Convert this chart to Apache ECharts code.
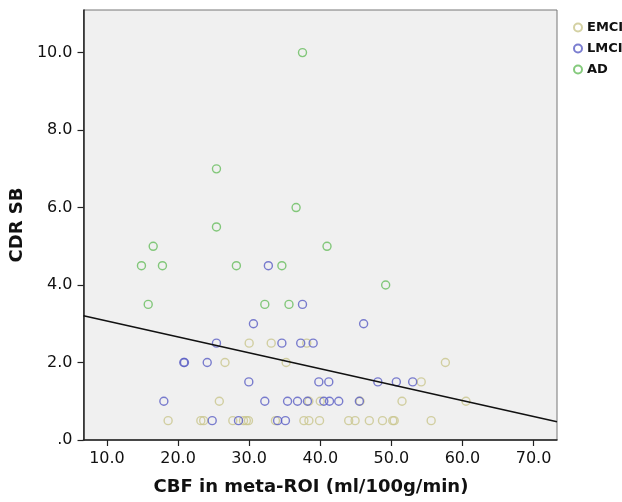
<!DOCTYPE html>
<html>
<head>
<meta charset="utf-8">
<script src="https://cdn.jsdelivr.net/npm/echarts@6/dist/echarts.min.js"></script>
<style>
html,body{margin:0;padding:0;background:#fff;}
#chart{width:622px;height:502px;}
</style>
</head>
<body>
<div id="chart"></div>
<script>
// ---- Data ----
const emciX = [18.6, 23.2, 23.6, 27.7, 29.2, 29.6, 29.9, 33.7, 37.7, 38.4, 39.9, 44.0, 44.9, 46.9, 48.75, 50.2, 50.4, 55.6,
               25.8, 38.4, 40.0, 45.6, 51.5, 60.5,
               54.2,
               26.6, 35.2, 57.6,
               30.0, 33.1, 38.1];
const emciY = [0.5, 0.5, 0.5, 0.5, 0.5, 0.5, 0.5, 0.5, 0.5, 0.5, 0.5, 0.5, 0.5, 0.5, 0.5, 0.5, 0.5, 0.5,
               1, 1, 1, 1, 1, 1,
               1.5,
               2, 2, 2,
               2.5, 2.5, 2.5];

const lmciX = [32.7, 37.5, 30.6, 46.1, 25.4, 34.6, 37.25, 39.0, 20.8, 20.9, 24.1,
               29.95, 39.8, 41.2, 48.1, 50.7, 53.0,
               18.0, 32.2, 35.4, 36.8, 38.2, 40.5, 41.3, 42.6, 45.5,
               24.8, 28.5, 34.0, 35.1];
const lmciY = [4.5, 3.5, 3, 3, 2.5, 2.5, 2.5, 2.5, 2, 2, 2,
               1.5, 1.5, 1.5, 1.5, 1.5, 1.5,
               1, 1, 1, 1, 1, 1, 1, 1, 1,
               0.5, 0.5, 0.5, 0.5];

const adX = [37.5, 25.4, 36.6, 25.4, 16.5, 40.95, 14.85, 17.8, 28.2, 34.6, 49.2, 15.8, 32.2, 35.6];
const adY = [10, 7, 6, 5.5, 5, 5, 4.5, 4.5, 4.5, 4.5, 4, 3.5, 3.5, 3.5];

const fitX = [6.7, 73.3];
const fitY = [3.21, 0.47];

const groupNames = ['EMCI', 'LMCI', 'AD'];
const xTicks = [10, 20, 30, 40, 50, 60, 70];
const yTicks = [0, 2, 4, 6, 8, 10];

// ---- Build chart ----
const colors = {EMCI: '#c9c58c', LMCI: '#5a5ec4', AD: '#66bd5c'};
const zip = (xs, ys) => xs.map((x, i) => [x, ys[i]]);
const FONT = '"DejaVu Sans", sans-serif';

function scatter(name, xs, ys) {
  return {
    name: name,
    type: 'scatter',
    data: zip(xs, ys),
    symbol: 'circle',
    symbolSize: 8,
    itemStyle: {color: 'rgba(0,0,0,0)', borderColor: colors[name], borderWidth: 1.4},
    emphasis: {disabled: true},
    z: 3
  };
}

const chart = echarts.init(document.getElementById('chart'), null, {renderer: 'canvas'});
chart.setOption({
  animation: false,
  backgroundColor: '#ffffff',
  textStyle: {fontFamily: FONT},
  title: {
    text: 'CBF in meta-ROI (ml/100g/min)',
    left: 'center',
    top: 478,
    padding: 0,
    textStyle: {fontFamily: FONT, fontSize: 18, fontWeight: 'bold', color: '#111'}
  },
  legend: {
    data: groupNames,
    orient: 'vertical',
    left: 573,
    top: 20,
    padding: 0,
    icon: 'circle',
    itemWidth: 8,
    itemHeight: 8,
    itemGap: 6,
    textStyle: {fontFamily: FONT, fontSize: 13, fontWeight: 'bold', color: '#111', lineHeight: 15}
  },
  grid: {
    left: 83, right: 65, top: 10, bottom: 62,
    show: true,
    backgroundColor: '#f0f0f0',
    borderColor: '#777',
    borderWidth: 1
  },
  xAxis: {
    type: 'value',
    min: 6.7,
    max: 73.3,
    splitLine: {show: false},
    axisLine: {show: true, onZero: false, lineStyle: {color: '#222', width: 1.5}},
    axisTick: {show: true, length: 6, customValues: xTicks, lineStyle: {color: '#222', width: 1.2}},
    axisLabel: {
      customValues: xTicks,
      margin: 11,
      fontFamily: FONT, fontSize: 16, color: '#111',
      formatter: v => v.toFixed(1)
    }
  },
  yAxis: {
    type: 'value',
    min: 0,
    max: 11.1,
    name: 'CDR SB',
    nameLocation: 'middle',
    nameGap: 55,
    nameTextStyle: {fontFamily: FONT, fontSize: 18, fontWeight: 'bold', color: '#111'},
    splitLine: {show: false},
    axisLine: {show: true, onZero: false, lineStyle: {color: '#222', width: 1.5}},
    axisTick: {show: true, length: 6, customValues: yTicks, lineStyle: {color: '#222', width: 1.2}},
    axisLabel: {
      customValues: yTicks,
      margin: 11,
      fontFamily: FONT, fontSize: 16, color: '#111',
      formatter: v => (v === 0 ? '.0' : v.toFixed(1))
    }
  },
  series: [
    scatter('EMCI', emciX, emciY),
    scatter('LMCI', lmciX, lmciY),
    scatter('AD', adX, adY),
    {
      name: 'fit',
      type: 'line',
      data: zip(fitX, fitY),
      showSymbol: false,
      symbol: 'none',
      lineStyle: {color: '#111', width: 1.5},
      emphasis: {disabled: true},
      z: 4
    }
  ]
});
</script>
</body>
</html>
